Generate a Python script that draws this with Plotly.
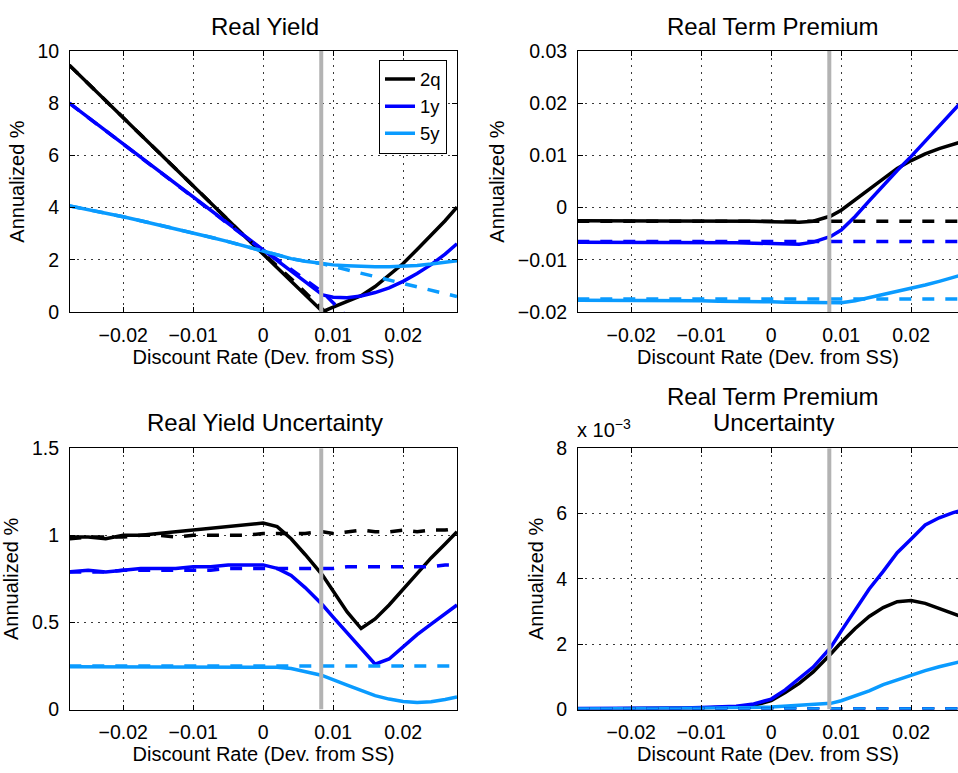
import plotly.graph_objects as go

# ---------------- data ----------------
x = [-0.0277, -0.025, -0.0225, -0.02, -0.0175, -0.015, -0.0125, -0.01, -0.0075, -0.005, -0.0025,
     0.0, 0.002, 0.004, 0.006, 0.008, 0.0085, 0.010, 0.012, 0.014, 0.016, 0.018, 0.020, 0.022,
     0.024, 0.026, 0.0277]
zlb_x = 0.0083
series_names = ["2q", "1y", "5y"]
colors = ["#000000", "#0000ff", "#0a9bff"]

# Real Yield
ry_2q = [9.45, 8.75, 8.09, 7.44, 6.79, 6.14, 5.48, 4.83, 4.18, 3.53, 2.87, 2.22, 1.70, 1.18, 0.65,
         0.13, 0.02, 0.19, 0.40, 0.63, 0.98, 1.40, 1.86, 2.40, 2.95, 3.50, 4.02]
ry_1y = [8.00, 7.45, 6.94, 6.43, 5.92, 5.41, 4.90, 4.39, 3.88, 3.37, 2.86, 2.35, 1.95, 1.55, 1.16,
         0.75, 0.66, 0.57, 0.55, 0.62, 0.75, 0.93, 1.18, 1.48, 1.82, 2.22, 2.62]
ry_5y = [4.07, 3.93, 3.79, 3.65, 3.50, 3.35, 3.19, 3.03, 2.87, 2.70, 2.52, 2.35, 2.18, 2.05, 1.95,
         1.87, 1.85, 1.81, 1.78, 1.75, 1.74, 1.74, 1.76, 1.79, 1.84, 1.90, 1.97]
ry_2q_d = [9.45, 8.75, 8.09, 7.44, 6.79, 6.14, 5.48, 4.83, 4.18, 3.53, 2.87, 2.24, 1.76, 1.28, 0.76,
           0.25, 0.14, -0.25, -0.8, None, None, None, None, None, None, None, None]
ry_1y_d = [8.00, 7.45, 6.94, 6.43, 5.92, 5.41, 4.90, 4.39, 3.88, 3.37, 2.86, 2.36, 2.02, 1.64, 1.25,
           0.86, 0.76, 0.36, -0.18, None, None, None, None, None, None, None, None]
ry_5y_d = [4.07, 3.93, 3.79, 3.65, 3.50, 3.35, 3.19, 3.03, 2.87, 2.70, 2.52, 2.35, 2.18, 2.05, 1.95,
           1.87, 1.85, 1.75, 1.62, 1.49, 1.36, 1.23, 1.10, 0.97, 0.85, 0.72, 0.60]

# Real Term Premium
rtp_2q = [-0.0025, -0.0025, -0.0025, -0.0025, -0.0025, -0.0025, -0.0025, -0.0025, -0.0026, -0.0026,
          -0.0026, -0.0027, -0.0028, -0.0028, -0.0026, -0.0019, -0.0016, -0.0005, 0.0015, 0.0037,
          0.0057, 0.0075, 0.0090, 0.0103, 0.0113, 0.0121, 0.0128]
rtp_1y = [-0.0066, -0.0066, -0.0066, -0.0066, -0.0066, -0.0066, -0.0066, -0.0066, -0.0067, -0.0067,
          -0.0068, -0.0069, -0.0070, -0.0070, -0.0066, -0.0058, -0.0055, -0.0043, -0.0017, 0.0013,
          0.0043, 0.0071, 0.0098, 0.0127, 0.0156, 0.0185, 0.0210]
rtp_5y = [-0.0177, -0.0177, -0.0177, -0.0177, -0.0177, -0.0178, -0.0178, -0.0178, -0.0179, -0.0179,
          -0.0180, -0.0180, -0.0181, -0.0181, -0.0182, -0.0182, -0.0182, -0.0182, -0.0178, -0.0172,
          -0.0166, -0.0161, -0.0155, -0.0148, -0.0141, -0.0134, -0.0127]
rtp_2q_d = [-0.0026] * 27
rtp_1y_d = [-0.0065] * 27
rtp_5y_d = [-0.0175] * 27

# Real Yield Uncertainty
ryu_2q = [0.99, 0.99, 0.98, 1.00, 1.00, 1.01, 1.02, 1.03, 1.04, 1.05, 1.06, 1.07, 1.05, 0.98, 0.89,
          0.79, 0.77, 0.68, 0.56, 0.465, 0.52, 0.60, 0.69, 0.78, 0.87, 0.95, 1.02]
ryu_1y = [0.79, 0.80, 0.79, 0.80, 0.81, 0.81, 0.81, 0.82, 0.82, 0.83, 0.83, 0.83, 0.81, 0.77, 0.70,
          0.62, 0.60, 0.53, 0.44, 0.35, 0.26, 0.29, 0.36, 0.43, 0.49, 0.55, 0.60]
ryu_5y = [0.245, 0.245, 0.243, 0.245, 0.245, 0.246, 0.245, 0.246, 0.246, 0.246, 0.245, 0.245, 0.243,
          0.235, 0.22, 0.20, 0.195, 0.17, 0.14, 0.11, 0.08, 0.06, 0.046, 0.040, 0.045, 0.058, 0.072]
ryu_2q_d = [0.98, 0.99, 0.99, 0.99, 1.00, 1.00, 0.99, 1.00, 1.00, 1.00, 1.00, 1.01, 1.01, 1.01, 1.01,
            1.02, 1.02, 1.01, 1.02, 1.03, 1.02, 1.02, 1.03, 1.02, 1.03, 1.03, 1.04]
ryu_1y_d = [0.79, 0.79, 0.79, 0.80, 0.80, 0.80, 0.80, 0.80, 0.80, 0.81, 0.81, 0.81, 0.81, 0.81, 0.81,
            0.81, 0.81, 0.81, 0.82, 0.82, 0.82, 0.82, 0.82, 0.82, 0.82, 0.83, 0.83]
ryu_5y_d = [0.25] * 27

# Real Term Premium Uncertainty (x 10^-3)
rtpu_2q = [0.02, 0.02, 0.02, 0.03, 0.03, 0.04, 0.04, 0.05, 0.06, 0.08, 0.13, 0.27, 0.52, 0.80, 1.15,
           1.58, 1.70, 2.05, 2.48, 2.85, 3.12, 3.30, 3.34, 3.25, 3.09, 2.93, 2.80]
rtpu_1y = [0.03, 0.03, 0.03, 0.04, 0.04, 0.05, 0.05, 0.06, 0.07, 0.10, 0.17, 0.32, 0.60, 0.95, 1.30,
           1.78, 1.90, 2.40, 3.04, 3.69, 4.23, 4.80, 5.22, 5.65, 5.87, 6.03, 6.12]
rtpu_5y = [0.02, 0.02, 0.02, 0.03, 0.03, 0.03, 0.04, 0.04, 0.05, 0.05, 0.06, 0.08, 0.10, 0.12, 0.14,
           0.18, 0.19, 0.27, 0.42, 0.57, 0.76, 0.91, 1.06, 1.19, 1.31, 1.42, 1.50]
rtpu_2q_d = [0.02] * 27
rtpu_1y_d = [0.02] * 27
rtpu_5y_d = [0.02] * 27

titles = ["Real Yield", "Real Term Premium", "Real Yield Uncertainty",
          "Real Term Premium", "Uncertainty"]
xlabel = "Discount Rate (Dev. from SS)"
ylabel = "Annualized %"
x_ticks = [-0.02, -0.01, 0, 0.01, 0.02]
x_ticktext = ["\u22120.02", "\u22120.01", "0", "0.01", "0.02"]

# ---------------- figure ----------------
W, H = 958, 773
FONT = "Liberation Sans, Arial, Helvetica, sans-serif"
TICK_SIZE = 19.5
LABEL_SIZE = 20
fig = go.Figure()

panels = [
    ("x", "y", [ry_2q, ry_1y, ry_5y], [ry_2q_d, ry_1y_d, ry_5y_d], True),
    ("x2", "y2", [rtp_2q, rtp_1y, rtp_5y], [rtp_2q_d, rtp_1y_d, rtp_5y_d], False),
    ("x3", "y3", [ryu_2q, ryu_1y, ryu_5y], [ryu_2q_d, ryu_1y_d, ryu_5y_d], False),
    ("x4", "y4", [rtpu_2q, rtpu_1y, rtpu_5y], [rtpu_2q_d, rtpu_1y_d, rtpu_5y_d], False),
]
y_ranges = [[0, 10], [-0.02, 0.03], [0, 1.5], [0, 8]]

for (xa, ya, solids, dashes, legend), yr in zip(panels, y_ranges):
    for name, col, ys in zip(series_names, colors, solids):
        fig.add_trace(go.Scatter(x=x, y=ys, mode="lines", name=name, xaxis=xa, yaxis=ya,
                                 line=dict(color=col, width=3.5), showlegend=legend,
                                 connectgaps=False))
    for name, col, ys in zip(series_names, colors, dashes):
        fig.add_trace(go.Scatter(x=x, y=ys, mode="lines", name=name, xaxis=xa, yaxis=ya,
                                 line=dict(color=col, width=3.5, dash="12px,11px"),
                                 showlegend=False, connectgaps=False))
    fig.add_trace(go.Scatter(x=[zlb_x, zlb_x], y=yr, mode="lines", xaxis=xa, yaxis=ya,
                             line=dict(color="#b3b3b3", width=4), showlegend=False,
                             hoverinfo="skip"))

def px_x(p):
    return p / W

def px_y(p):
    return 1 - p / H

left_dom = [px_x(70), px_x(457)]
right_dom = [px_x(578), 1.0]
top_dom = [px_y(310), px_y(41)]
bot_dom = [px_y(719), px_y(450)]

common = dict(showline=True, linecolor="black", linewidth=1, ticks="inside", ticklen=5,
              tickcolor="black", showgrid=True, gridcolor="#3a3a3a", gridwidth=1,
              griddash="2px,5px", zeroline=False,
              tickfont=dict(family=FONT, size=TICK_SIZE, color="black"))

def xaxis(dom, anchor, rng):
    d = dict(common)
    d.update(domain=dom, anchor=anchor, range=rng, tickvals=x_ticks, ticktext=x_ticktext,
             mirror="ticks", ticklabelstandoff=5,
             title=dict(text=xlabel, font=dict(family=FONT, size=LABEL_SIZE, color="black"),
                        standoff=2))
    return d

def yaxis(dom, anchor, rng, tv, tt, mirror):
    d = dict(common)
    d.update(domain=dom, anchor=anchor, range=rng, tickvals=tv, ticktext=tt,
             mirror=mirror, ticklabelstandoff=6,
             title=dict(text=ylabel, font=dict(family=FONT, size=LABEL_SIZE, color="black"),
                        standoff=7))
    return d

xr_left = [-0.0276, 0.0277]
xr_right = [-0.0276, -0.0276 + 380 / 7000]

fig.update_layout(
    width=W, height=H, margin=dict(l=0, r=0, t=0, b=0),
    paper_bgcolor="white", plot_bgcolor="white",
    font=dict(family=FONT, color="black"),
    xaxis=xaxis(left_dom, "y", xr_left),
    xaxis2=xaxis(right_dom, "y2", xr_right),
    xaxis3=xaxis(left_dom, "y3", xr_left),
    xaxis4=xaxis(right_dom, "y4", xr_right),
    yaxis=yaxis(top_dom, "x", [0, 10], [0, 2, 4, 6, 8, 10], ["0", "2", "4", "6", "8", "10"], "ticks"),
    yaxis2=yaxis(top_dom, "x2", [-0.02, 0.03], [-0.02, -0.01, 0, 0.01, 0.02, 0.03],
                 ["\u22120.02", "\u22120.01", "0", "0.01", "0.02", "0.03"], False),
    yaxis3=yaxis(bot_dom, "x3", [0, 1.5], [0, 0.5, 1, 1.5], ["0", "0.5", "1", "1.5"], "ticks"),
    yaxis4=yaxis(bot_dom, "x4", [0, 8], [0, 2, 4, 6, 8], ["0", "2", "4", "6", "8"], False),
    legend=dict(x=px_x(447), xanchor="right", y=px_y(50), yanchor="top",
                bordercolor="black", borderwidth=1, bgcolor="white",
                font=dict(family=FONT, size=18.5, color="black"), tracegroupgap=0),
    showlegend=True,
)

title_font = dict(family=FONT, size=24, color="black")
ann = [
    (265, 16, titles[0]),
    (773, 16, titles[1]),
    (265, 424, titles[2]),
    (773, 397, titles[3]),
    (773, 424, titles[4]),
]
for cx, cy, t in ann:
    fig.add_annotation(x=px_x(cx), y=px_y(cy), xref="paper", yref="paper", text=t,
                       showarrow=False, xanchor="center", yanchor="middle", font=title_font)
fig.add_annotation(x=px_x(575), y=px_y(445), xref="paper", yref="paper",
                   text="x 10<sup>\u22123</sup>", showarrow=False, xanchor="left",
                   yanchor="bottom", font=dict(family=FONT, size=20, color="black"))

fig.write_html("out.html")
